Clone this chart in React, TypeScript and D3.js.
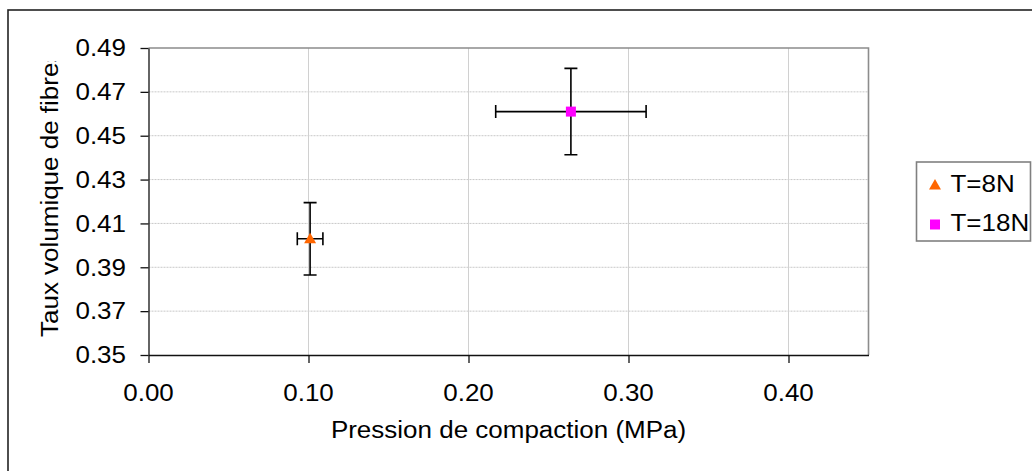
import { useEffect, useRef } from "react"
import * as d3 from "d3"

// data
const series = ["T=8N", "T=18N"]
const pressure = [0.101, 0.264]
const pressureErr = [0.008, 0.047]
const fibreRate = [0.403, 0.461]
const fibreErr = [0.0165, 0.0197]
const xTicks = [0.0, 0.1, 0.2, 0.3, 0.4]
const yTicks = [0.35, 0.37, 0.39, 0.41, 0.43, 0.45, 0.47, 0.49]
const colors = ["#ff6600", "#ff00ff"]

const FONT = "'Liberation Sans', Arial, sans-serif"
const SX = 1.13

function App() {
    const ref = useRef<SVGSVGElement>(null)

    useEffect(() => {
        const svg = d3.select(ref.current)
        svg.selectAll("*").remove()

        const left = 148.5, right = 868.5, top = 48, bottom = 355
        const x = d3.scaleLinear().domain([0, 0.45]).range([left, right])
        const y = d3.scaleLinear().domain([0.35, 0.49]).range([bottom, top])

        // outer frame
        svg.append("rect")
            .attr("x", 8).attr("y", 10)
            .attr("width", 1040).attr("height", 480)
            .attr("fill", "white").attr("stroke", "#222").attr("stroke-width", 1.6)

        // gridlines
        svg.append("g").selectAll("line")
            .data(yTicks.slice(1, -1))
            .enter().append("line")
            .attr("x1", left).attr("x2", right)
            .attr("y1", d => y(d)).attr("y2", d => y(d))
            .attr("stroke", "#c8c8c8").attr("stroke-dasharray", "2,1")
        svg.append("g").selectAll("line")
            .data(xTicks.slice(1))
            .enter().append("line")
            .attr("y1", top).attr("y2", bottom)
            .attr("x1", d => x(d)).attr("x2", d => x(d))
            .attr("stroke", "#d0d0d0")

        // top/right border
        svg.append("path")
            .attr("d", `M${left},${top}H${right}V${bottom}`)
            .attr("fill", "none").attr("stroke", "#8c8c8c").attr("stroke-width", 1.6)

        // axes
        const yAxis = svg.append("g")
            .attr("transform", `translate(${left},0)`)
            .call(d3.axisLeft(y).tickValues(yTicks).tickSize(8).tickSizeOuter(0).tickFormat(() => ""))
        const xAxis = svg.append("g")
            .attr("transform", `translate(0,${bottom})`)
            .call(d3.axisBottom(x).tickValues(xTicks).tickSize(8).tickSizeOuter(0).tickFormat(() => ""))
        for (const ax of [xAxis, yAxis]) {
            ax.select(".domain").attr("stroke", "#111").attr("stroke-width", 1.3)
            ax.selectAll(".tick line").attr("stroke", "#111").attr("stroke-width", 1.3)
        }

        const label = (g: any, tx: number, ty: number, txt: string, anchor: string, rot = 0) =>
            g.append("text")
                .attr("transform", `translate(${tx},${ty}) rotate(${rot}) scale(${SX},1)`)
                .attr("text-anchor", anchor)
                .attr("font-family", FONT).attr("font-size", 23).attr("fill", "#000")
                .text(txt)

        for (const t of yTicks) label(svg, 126, y(t) + 8.3, t.toFixed(2), "end")
        for (const t of xTicks) label(svg, x(t), 401, t.toFixed(2), "middle")

        label(svg, (left + right) / 2, 437.5, "Pression de compaction (MPa)", "middle")

        // the y title is cut off at the top, as in the original
        svg.append("clipPath").attr("id", "ytclip")
            .append("rect").attr("x", 0).attr("y", 61).attr("width", 140).attr("height", 400)
        const yt = svg.append("g").attr("clip-path", "url(#ytclip)")
        label(yt, 58, 337, "Taux volumique de fibres", "start", -90)

        // error bars
        const cap = 6.5
        const bars = svg.append("g").attr("stroke", "#000").attr("stroke-width", 1.6).attr("fill", "none")
        series.forEach((_, i) => {
            const cx = x(pressure[i]), cy = y(fibreRate[i])
            const x0 = x(pressure[i] - pressureErr[i]), x1 = x(pressure[i] + pressureErr[i])
            const y0 = y(fibreRate[i] - fibreErr[i]), y1 = y(fibreRate[i] + fibreErr[i])
            bars.append("path").attr("d",
                `M${cx},${y0}V${y1}M${cx - cap},${y0}H${cx + cap}M${cx - cap},${y1}H${cx + cap}` +
                `M${x0},${cy}H${x1}M${x0},${cy - cap}V${cy + cap}M${x1},${cy - cap}V${cy + cap}`)
        })

        // markers
        const tri = d3.symbol().type(d3.symbolTriangle).size(62)
        const sq = d3.symbol().type(d3.symbolSquare).size(100)
        const shapes = [tri, sq]
        series.forEach((_, i) => {
            svg.append("path")
                .attr("transform", `translate(${x(pressure[i])},${y(fibreRate[i]) + (i === 0 ? 1 : 0)})`)
                .attr("d", shapes[i]()!)
                .attr("fill", colors[i])
        })

        // legend
        svg.append("rect")
            .attr("x", 916.5).attr("y", 162)
            .attr("width", 114).attr("height", 79)
            .attr("fill", "white").attr("stroke", "#808080").attr("stroke-width", 1.6)
        const legendY = [186, 224.5]
        series.forEach((s, i) => {
            svg.append("path")
                .attr("transform", `translate(935,${legendY[i]})`)
                .attr("d", shapes[i]()!)
                .attr("fill", colors[i])
            label(svg, 950.5, legendY[i] + 6, s, "start")
        })
    })

    return (
        <svg ref={ref} width={1032} height={471}
            style={{ position: "absolute", left: 0, top: 0, background: "white" }}></svg>
    )
}

export default App
